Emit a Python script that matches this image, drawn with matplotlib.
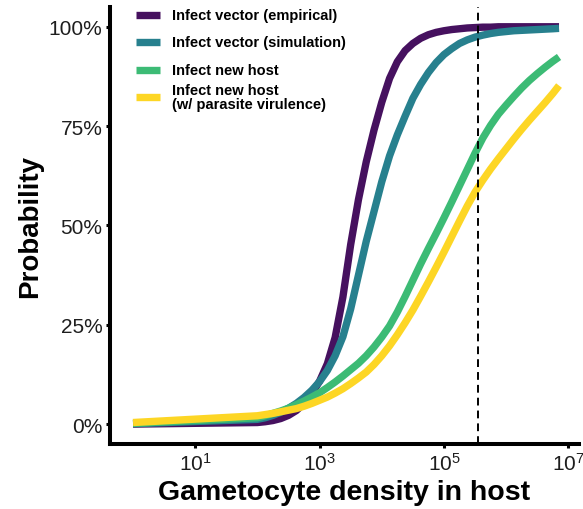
import numpy as np
import matplotlib
matplotlib.use("Agg")
import matplotlib.pyplot as plt
from matplotlib.ticker import FixedLocator, NullLocator

plt.rcParams["font.family"] = ["Liberation Sans", "DejaVu Sans"]
plt.rcParams["mathtext.fontset"] = "custom"
plt.rcParams["mathtext.rm"] = "Liberation Sans"
plt.rcParams["mathtext.it"] = "Liberation Sans:italic"
plt.rcParams["mathtext.bf"] = "Liberation Sans:bold"
plt.rcParams["mathtext.default"] = "regular"

# log10 gametocyte density grid
log10_density = [0, 2.0, 2.125, 2.25, 2.375, 2.5, 2.625, 2.75, 2.875,
                 3.0, 3.125, 3.25, 3.375, 3.5, 3.625, 3.75, 3.875,
                 4.0, 4.125, 4.25, 4.375, 4.5, 4.625, 4.75, 4.875,
                 5.0, 5.125, 5.25, 5.375, 5.5, 5.625, 5.75, 5.875,
                 6.0, 6.125, 6.25, 6.375, 6.5, 6.625, 6.75, 6.85]

p_vector_emp = [0.000, 0.004, 0.006, 0.009, 0.014, 0.022, 0.034, 0.052, 0.077,
                0.108, 0.152, 0.218, 0.320, 0.452, 0.565, 0.660, 0.740,
                0.810, 0.870, 0.912, 0.940, 0.958, 0.971, 0.980, 0.986,
                0.990, 0.993, 0.995, 0.997, 0.998, 0.999, 0.999, 1.000,
                1.000, 1.000, 1.000, 1.000, 1.000, 1.000, 1.000, 1.000]
p_vector_sim = [0.001, 0.012, 0.016, 0.022, 0.030, 0.040, 0.052, 0.067, 0.085,
                0.107, 0.135, 0.172, 0.220, 0.290, 0.375, 0.460, 0.535,
                0.610, 0.675, 0.728, 0.775, 0.820, 0.855, 0.885, 0.910,
                0.930, 0.945, 0.958, 0.967, 0.974, 0.979, 0.983, 0.986,
                0.988, 0.990, 0.991, 0.992, 0.993, 0.994, 0.995, 0.996]
p_new_host = [0.002, 0.016, 0.021, 0.027, 0.033, 0.040, 0.049, 0.058, 0.068,
              0.079, 0.092, 0.106, 0.121, 0.137, 0.153, 0.172, 0.194,
              0.219, 0.247, 0.282, 0.321, 0.362, 0.403, 0.442, 0.480,
              0.519, 0.559, 0.600, 0.641, 0.682, 0.720, 0.752, 0.780,
              0.803, 0.825, 0.846, 0.865, 0.882, 0.898, 0.913, 0.924]
p_new_host_vir = [0.004, 0.021, 0.024, 0.027, 0.031, 0.035, 0.039, 0.045, 0.052,
                  0.060, 0.068, 0.078, 0.089, 0.102, 0.116, 0.131, 0.150,
                  0.172, 0.197, 0.225, 0.255, 0.287, 0.322, 0.358, 0.395,
                  0.433, 0.472, 0.511, 0.549, 0.584, 0.614, 0.642, 0.668,
                  0.693, 0.718, 0.742, 0.765, 0.787, 0.809, 0.832, 0.852]

series = [p_vector_emp, p_vector_sim, p_new_host, p_new_host_vir]
labels = ["Infect vector (empirical)", "Infect vector (simulation)",
          "Infect new host", "Infect new host\n(w/ parasite virulence)"]
colors = ["#46115f", "#27808e", "#3cbb75", "#fdd625"]

threshold = 3.5e5

x_ticks = [1e1, 1e3, 1e5, 1e7]
x_ticklabels = [r"$10^{1}$", r"$10^{3}$", r"$10^{5}$", r"$10^{7}$"]
y_ticks = [0, 0.25, 0.5, 0.75, 1.0]
y_ticklabels = ["0%", "25%", "50%", "75%", "100%"]

density = 10 ** np.array(log10_density)

fig = plt.figure(figsize=(5.83, 5.10), dpi=100)
ax = fig.add_axes([0.1887, 0.1275, 0.8043, 0.857])

for ys, c in zip(series, colors):
    ax.plot(density, ys, color=c, lw=5.3, solid_capstyle="butt",
            solid_joinstyle="round", zorder=3)

ax.axvline(threshold, color="black", lw=1.4, dashes=(4, 2.6), zorder=4)

ax.set_xscale("log")
ax.set_xlim(10 ** -0.37, 10 ** 7.17)
ax.set_ylim(-0.05, 1.05)
ax.xaxis.set_major_locator(FixedLocator(x_ticks))
ax.xaxis.set_minor_locator(NullLocator())
ax.set_xticklabels(x_ticklabels)
ax.set_yticks(y_ticks)
ax.set_yticklabels(y_ticklabels)

for side in ["top", "right"]:
    ax.spines[side].set_visible(False)
for side in ["left", "bottom"]:
    ax.spines[side].set_linewidth(2.9)
ax.tick_params(axis="both", length=3, width=2.2, color="black",
               labelsize=15, labelcolor="#1e1e1e", pad=2.5)

ax.set_xlabel("Gametocyte density in host", fontsize=20.5, fontweight="bold",
              labelpad=4)
ax.set_ylabel("Probability", fontsize=20, fontweight="bold", labelpad=4)

# legend drawn as keys + labels inside the top-left corner
key_x0, key_x1, text_x = 0.0554, 0.1066, 0.1315
row_y = [0.982, 0.919, 0.856, 0.793]
for lab, c, yy in zip(labels, colors, row_y):
    ax.plot([key_x0, key_x1], [yy, yy], transform=ax.transAxes, color=c,
            lw=5.3, solid_capstyle="butt", clip_on=False, zorder=5)
    ax.text(text_x, yy, lab, transform=ax.transAxes, fontsize=10.5,
            fontweight="bold", va="center", ha="left", linespacing=1.0,
            zorder=5)

fig.savefig("out.png", dpi=100)
